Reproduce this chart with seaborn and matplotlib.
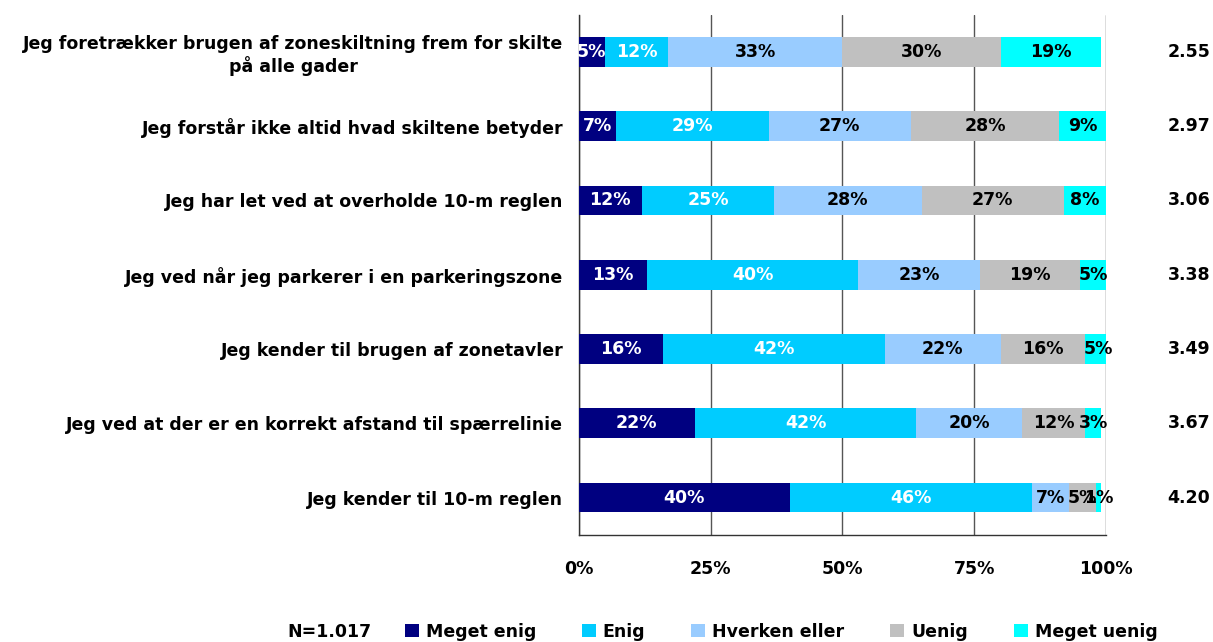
import matplotlib
matplotlib.use("Agg")
import matplotlib.pyplot as plt
from matplotlib.patches import Patch
import numpy as np
import pandas as pd
import seaborn as sns

# Survey statements (top to bottom)
statements = [
    "Jeg foretrækker brugen af zoneskiltning frem for skilte\npå alle gader",
    "Jeg forstår ikke altid hvad skiltene betyder",
    "Jeg har let ved at overholde 10-m reglen",
    "Jeg ved når jeg parkerer i en parkeringszone",
    "Jeg kender til brugen af zonetavler",
    "Jeg ved at der er en korrekt afstand til spærrelinie",
    "Jeg kender til 10-m reglen",
]
answers = ["Meget enig", "Enig", "Hverken eller", "Uenig", "Meget uenig"]

meget_enig = [5, 7, 12, 13, 16, 22, 40]
enig = [12, 29, 25, 40, 42, 42, 46]
hverken = [33, 27, 28, 23, 22, 20, 7]
uenig = [30, 28, 27, 19, 16, 12, 5]
meget_uenig = [19, 9, 8, 5, 5, 3, 1]
means = ["2.55", "2.97", "3.06", "3.38", "3.49", "3.67", "4.20"]
n_label = "N=1.017"
x_ticks = [0, 25, 50, 75, 100]

colors = ["#000080", "#00CCFF", "#99CCFF", "#C0C0C0", "#00FFFF"]
text_colors = ["white", "white", "black", "black", "black"]

sns.set_style("white")
plt.rcParams["font.family"] = ["DejaVu Sans"]
plt.rcParams["font.weight"] = "bold"
plt.rcParams["text.color"] = "black"
plt.rcParams["xtick.color"] = "black"
plt.rcParams["ytick.color"] = "black"

FS = 12.5

df = pd.DataFrame(
    {"statement": statements, answers[0]: meget_enig, answers[1]: enig,
     answers[2]: hverken, answers[3]: uenig, answers[4]: meget_uenig}
)
cum = df[answers].cumsum(axis=1)

fig = plt.figure(figsize=(12.13, 6.42), dpi=100)
ax = fig.add_axes([0.477, 0.167, 0.435, 0.810])

# stacked bars: draw cumulative totals from the outermost segment inwards
for ans, col in reversed(list(zip(answers, colors))):
    sns.barplot(data=cum.assign(statement=df["statement"]), x=ans, y="statement",
                orient="h", color=col, width=0.4, saturation=1, ax=ax,
                edgecolor="none", linewidth=0, zorder=3)

# segment labels
for i in range(len(statements)):
    left = 0
    for ans, tc in zip(answers, text_colors):
        v = df.loc[i, ans]
        ax.text(left + v / 2, i, f"{v}%", ha="center", va="center",
                color=tc, fontsize=FS, fontweight="bold", zorder=5)
        left += v
    # mean score on the right
    ax.text(1.0 + 0.197, i, means[i], transform=ax.get_yaxis_transform(),
            ha="right", va="center", fontsize=FS, fontweight="bold")

ax.set_xlim(0, 100)
ax.set_ylim(len(statements) - 0.5, -0.5)
ax.set_xticks(x_ticks)
ax.set_xticklabels([f"{t}%" for t in x_ticks], fontsize=FS, fontweight="bold")
ax.xaxis.grid(True, color="#555555", linewidth=1.0, zorder=0)
ax.set_axisbelow(True)

ax.set_yticks(range(len(statements)))
ax.set_yticklabels(statements, fontsize=FS, fontweight="bold", ha="right")
for lbl in ax.get_yticklabels():
    lbl.set_multialignment("center")
ax.tick_params(axis="y", length=0, pad=11)
ax.set_yticks(np.arange(-0.5, len(statements), 1.0), minor=True)
ax.tick_params(axis="y", which="minor", length=5, direction="out", color="#333333")
ax.tick_params(axis="x", length=5, direction="out", color="#333333", pad=13)
ax.set_xlabel("")
ax.set_ylabel("")

for side in ["top", "right"]:
    ax.spines[side].set_visible(False)
for side in ["left", "bottom"]:
    ax.spines[side].set_color("#333333")
    ax.spines[side].set_linewidth(1.0)

handles = [Patch(facecolor=c, edgecolor="none", label=a) for a, c in zip(answers, colors)]
leg = fig.legend(handles=handles, loc="center", bbox_to_anchor=(0.644, 0.016), ncol=5,
                 frameon=False, handlelength=0.8, handleheight=0.8,
                 handletextpad=0.4, columnspacing=2.65, prop={"weight": "bold", "size": FS})
fig.text(0.272, 0.016, n_label, ha="center", va="center", fontsize=FS, fontweight="bold")

fig.savefig("out.png", dpi=100)
